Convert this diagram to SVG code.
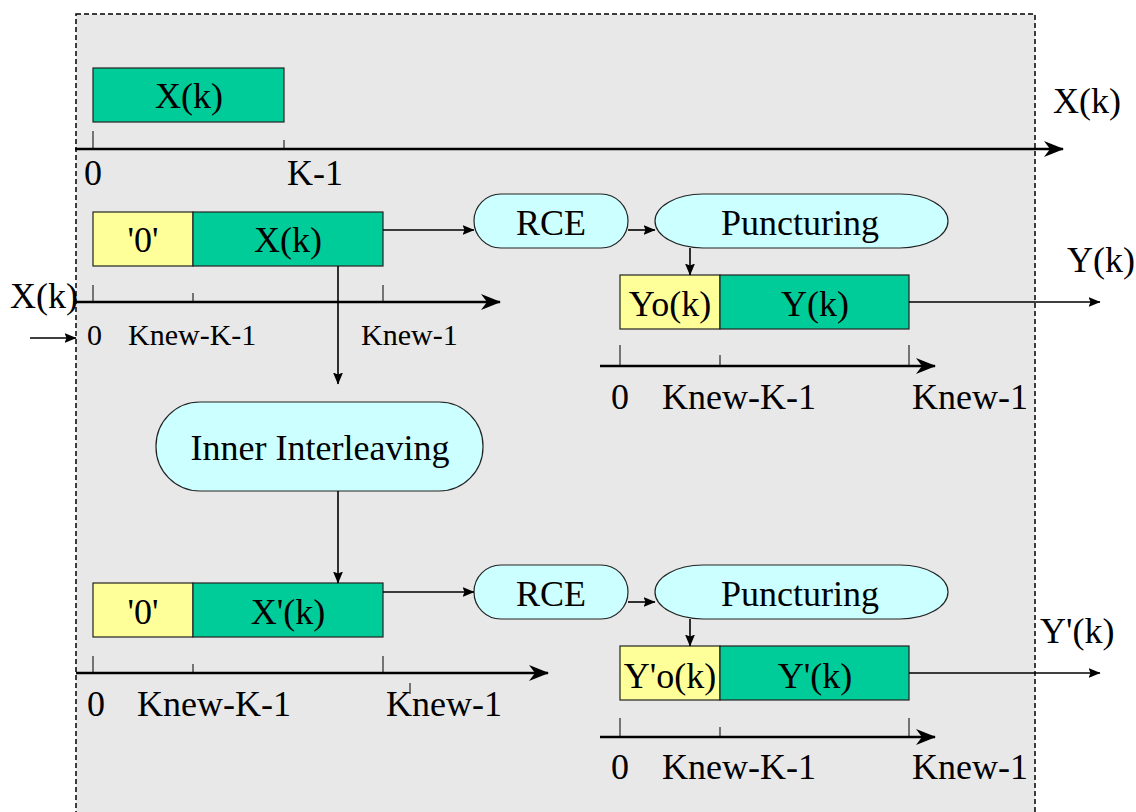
<svg xmlns="http://www.w3.org/2000/svg" width="1136" height="812" viewBox="0 0 1136 812">
<style>
.c{text-anchor:middle}
.g{fill:#00cc99;stroke:#222;stroke-width:1.2}
.y{fill:#ffff99;stroke:#222;stroke-width:1.2}
.b{fill:#ccffff;stroke:#222;stroke-width:1.2}
.ax{stroke:#000;stroke-width:2.5;fill:none;marker-end:url(#big)}
.tk{stroke:#000;stroke-width:1;fill:none}
.ar{stroke:#000;stroke-width:1.6;fill:none;marker-end:url(#sm)}
</style>
<defs>
<marker id="big" viewBox="0 0 20 16" refX="19" refY="8" markerWidth="20" markerHeight="16" markerUnits="userSpaceOnUse" orient="auto">
<path d="M0,0 L20,8 L0,16 L6,8 z" fill="#000"/>
</marker>
<marker id="sm" viewBox="0 0 12 10" refX="11.5" refY="5" markerWidth="12" markerHeight="10" markerUnits="userSpaceOnUse" orient="auto">
<path d="M0,0 L12,5 L0,10 L2,5 z" fill="#000"/>
</marker>
</defs>
<rect x="76" y="14" width="959" height="810" fill="#e8e8e8" stroke="#000" stroke-width="1.5" stroke-dasharray="5,3"/>

<g id="row1" font-family="Liberation Serif" font-size="36">
<rect class="g" x="93" y="68" width="191" height="54"/>
<text class="c" x="189" y="108">X(k)</text>
<line class="tk" x1="93" y1="131" x2="93" y2="149"/>
<line class="tk" x1="284" y1="140" x2="284" y2="149"/>
<text x="84" y="185">0</text>
<text x="287" y="185">K-1</text>
<text x="1053" y="113">X(k)</text>
</g>

<g id="row2" font-family="Liberation Serif" font-size="36">
<rect class="y" x="93" y="212" width="100" height="54"/>
<rect class="g" x="193" y="212" width="190" height="54"/>
<text class="c" x="143" y="252">'0'</text>
<text class="c" x="288" y="252">X(k)</text>
<line class="tk" x1="93" y1="285" x2="93" y2="302"/>
<line class="tk" x1="193" y1="293" x2="193" y2="302"/>
<line class="tk" x1="383" y1="285" x2="383" y2="302"/>
<text font-size="30" x="87" y="345">0</text>
<text font-size="30" x="128" y="345">Knew-K-1</text>
<text font-size="30" x="361" y="345">Knew-1</text>
<text x="10" y="308">X(k)</text>
</g>

<g id="rce1" font-family="Liberation Serif" font-size="36">
<rect class="b" x="474" y="194" width="154" height="54" rx="27" ry="27"/>
<text class="c" x="551" y="235">RCE</text>
</g>
<g id="punct1" font-family="Liberation Serif" font-size="36">
<rect class="b" x="655" y="194" width="293" height="54" rx="48" ry="27"/>
<text class="c" x="800" y="235">Puncturing</text>
</g>

<g id="out1" font-family="Liberation Serif" font-size="36">
<rect class="y" x="620" y="275" width="100" height="54"/>
<rect class="g" x="720" y="275" width="189" height="54"/>
<text class="c" x="670" y="316">Yo(k)</text>
<text class="c" x="815" y="316">Y(k)</text>
<line class="tk" x1="620" y1="345" x2="620" y2="366"/>
<line class="tk" x1="720" y1="355" x2="720" y2="366"/>
<line class="tk" x1="909" y1="345" x2="909" y2="366"/>
<text x="611" y="409">0</text>
<text x="662" y="409">Knew-K-1</text>
<text x="912" y="409">Knew-1</text>
<text x="1067" y="272">Y(k)</text>
</g>

<g id="inner" font-family="Liberation Serif" font-size="36">
<rect class="b" x="156" y="402" width="327" height="89" rx="44" ry="44"/>
<text class="c" x="320" y="460">Inner Interleaving</text>
</g>

<g id="row3" font-family="Liberation Serif" font-size="36">
<rect class="y" x="93" y="583" width="100" height="54"/>
<rect class="g" x="193" y="583" width="190" height="54"/>
<text class="c" x="143" y="624">'0'</text>
<text class="c" x="288" y="624">X'(k)</text>
<line class="tk" x1="93" y1="656" x2="93" y2="673"/>
<line class="tk" x1="193" y1="664" x2="193" y2="673"/>
<line class="tk" x1="383" y1="656" x2="383" y2="673"/>
<line class="tk" x1="410" y1="683" x2="410" y2="694"/>
<text x="87" y="716">0</text>
<text x="137" y="716">Knew-K-1</text>
<text x="386" y="716">Knew-1</text>
</g>

<g id="rce2" font-family="Liberation Serif" font-size="36">
<rect class="b" x="474" y="565" width="154" height="54" rx="27" ry="27"/>
<text class="c" x="551" y="606">RCE</text>
</g>
<g id="punct2" font-family="Liberation Serif" font-size="36">
<rect class="b" x="655" y="565" width="293" height="54" rx="48" ry="27"/>
<text class="c" x="800" y="606">Puncturing</text>
</g>

<g id="out2" font-family="Liberation Serif" font-size="36">
<rect class="y" x="620" y="646" width="100" height="54"/>
<rect class="g" x="720" y="646" width="189" height="54"/>
<text class="c" x="670" y="688">Y'o(k)</text>
<text class="c" x="815" y="688">Y'(k)</text>
<line class="tk" x1="620" y1="718" x2="620" y2="737"/>
<line class="tk" x1="720" y1="727" x2="720" y2="737"/>
<line class="tk" x1="909" y1="718" x2="909" y2="737"/>
<text x="611" y="779">0</text>
<text x="662" y="779">Knew-K-1</text>
<text x="912" y="779">Knew-1</text>
<text x="1040" y="643">Y'(k)</text>
</g>

<g id="connectors">
<line class="ax" x1="75" y1="149" x2="1063" y2="149"/>
<line class="ax" x1="76" y1="302" x2="500" y2="302"/>
<line class="ax" x1="600" y1="366" x2="935" y2="366"/>
<line class="ax" x1="76" y1="673" x2="548" y2="673"/>
<line class="ax" x1="600" y1="737" x2="935" y2="737"/>
<line class="ar" x1="30" y1="338" x2="76" y2="338"/>
<line class="ar" x1="383" y1="230" x2="474" y2="230"/>
<line class="ar" x1="628" y1="230" x2="655" y2="230"/>
<line class="ar" x1="690" y1="248" x2="690" y2="275"/>
<line class="ar" x1="909" y1="302" x2="1100" y2="302"/>
<line class="ar" x1="338" y1="266" x2="338" y2="384"/>
<line class="ar" x1="338" y1="491" x2="338" y2="583"/>
<line class="ar" x1="383" y1="592" x2="474" y2="592"/>
<line class="ar" x1="628" y1="602" x2="655" y2="602"/>
<line class="ar" x1="690" y1="619" x2="690" y2="646"/>
<line class="ar" x1="909" y1="673" x2="1100" y2="673"/>
</g>
</svg>
